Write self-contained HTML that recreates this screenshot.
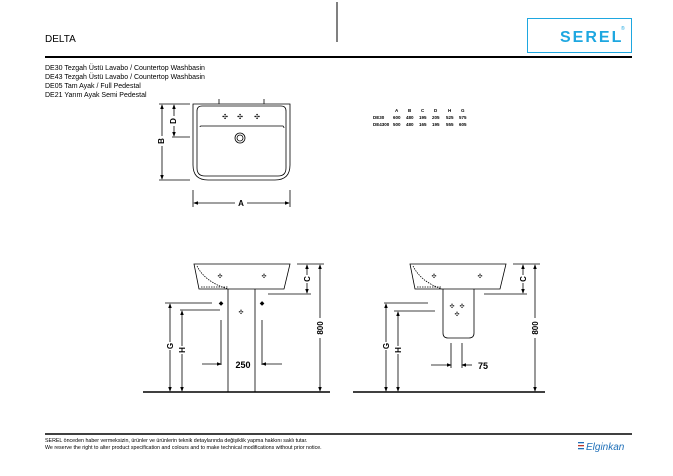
<!DOCTYPE html>
<html><head><meta charset="utf-8"><style>
html,body{margin:0;padding:0;background:#fff;width:673px;height:476px;overflow:hidden}
svg{display:block}
text{font-family:"Liberation Sans",sans-serif}
</style></head><body>
<svg width="673" height="476" viewBox="0 0 673 476" xmlns="http://www.w3.org/2000/svg">
<defs>
<marker id="ar" markerWidth="6" markerHeight="6" refX="5" refY="3" orient="auto-start-reverse"><path d="M0,0.8 L6,3 L0,5.2z" fill="#000"/></marker>
</defs>
<line x1="337" y1="2" x2="337" y2="42" stroke="#000" stroke-width="1"/>
<text x="45" y="42" font-size="10">DELTA</text>
<line x1="45" y1="57" x2="632" y2="57" stroke="#000" stroke-width="2"/>
<rect x="527.5" y="18.5" width="104" height="34" fill="none" stroke="#1ea7e0" stroke-width="1"/>
<text x="560" y="42" font-size="16" font-weight="bold" fill="#1ea7e0" letter-spacing="2">SEREL</text>
<text x="621" y="30" font-size="5" fill="#1ea7e0">®</text>
<g font-size="7">
<text x="45" y="70">DE30 Tezgah Üstü Lavabo / Countertop Washbasin</text>
<text x="45" y="79">DE43 Tezgah Üstü Lavabo / Countertop Washbasin</text>
<text x="45" y="88">DE05 Tam Ayak / Full Pedestal</text>
<text x="45" y="97">DE21 Yarım Ayak Semi Pedestal</text>
</g>
<!-- top view -->
<g fill="none" stroke="#000" stroke-width="0.8">
<path d="M193,104 H290 V165 Q290,180 275,180 H208 Q193,180 193,165 Z"/>
<path d="M197,111 Q197,106 202,106 H281 Q286,106 286,111 V168 Q286,176 278,176 H205 Q197,176 197,168 Z"/>
<path d="M200,127 Q200,126 201,126 H283 Q284,127 284,128"/>
<circle cx="240" cy="138" r="5"/><circle cx="240" cy="138" r="3"/>
<line x1="219" y1="99" x2="219" y2="104"/><line x1="264" y1="99" x2="264" y2="104"/>
<line x1="159" y1="104" x2="190" y2="104"/><line x1="159" y1="180" x2="190" y2="180"/>
<line x1="172" y1="137" x2="190" y2="137"/>
<line x1="193" y1="190" x2="193" y2="207"/><line x1="290" y1="190" x2="290" y2="207"/>
</g>
<g font-size="7" text-anchor="middle"><text x="225" y="119">✣</text><text x="240" y="119">✣</text><text x="257" y="119">✣</text></g>
<g stroke="#000" stroke-width="0.8">
<line x1="162" y1="105" x2="162" y2="179" marker-start="url(#ar)" marker-end="url(#ar)"/>
<line x1="174" y1="105" x2="174" y2="136" marker-start="url(#ar)" marker-end="url(#ar)"/>
<line x1="194" y1="203" x2="289" y2="203" marker-start="url(#ar)" marker-end="url(#ar)"/>
</g>
<rect x="156" y="136" width="12" height="10" fill="#fff"/><text x="162" y="143" font-size="8" font-weight="bold" text-anchor="middle" transform="rotate(-90 162 141)">B</text>
<rect x="169" y="116" width="10" height="10" fill="#fff"/><text x="174" y="123" font-size="8" font-weight="bold" text-anchor="middle" transform="rotate(-90 174 121)">D</text>
<rect x="235" y="198" width="12" height="10" fill="#fff"/><text x="241" y="206" font-size="8" font-weight="bold" text-anchor="middle">A</text>
<!-- table -->
<g font-size="4.5" font-weight="bold">
<text x="395" y="112">A</text><text x="408" y="112">B</text><text x="421" y="112">C</text><text x="434" y="112">D</text><text x="448" y="112">H</text><text x="461" y="112">G</text>
<text x="373" y="119">DE30</text><text x="393" y="119">600</text><text x="406" y="119">480</text><text x="419" y="119">195</text><text x="432" y="119">205</text><text x="446" y="119">525</text><text x="459" y="119">575</text>
<text x="373" y="126">DE4300</text><text x="393" y="126">500</text><text x="406" y="126">480</text><text x="419" y="126">165</text><text x="432" y="126">195</text><text x="446" y="126">555</text><text x="459" y="126">605</text>
</g>
<!-- side views -->
<g id="sv" fill="none" stroke="#000" stroke-width="0.8">
<path d="M194,264 H290 L284,289 H199 Z"/>
<path d="M197,266 Q205,282 228,289" stroke-dasharray="1.5,1"/>
<line x1="201" y1="287" x2="228" y2="287" stroke-dasharray="1.5,1"/>
<line x1="297" y1="264" x2="324" y2="264"/>
<line x1="268" y1="294" x2="311" y2="294"/>
<line x1="143" y1="392" x2="330" y2="392" stroke-width="1.6"/>
</g>
<g fill="none" stroke="#000" stroke-width="0.8">
<line x1="228" y1="289" x2="228" y2="392"/><line x1="255" y1="289" x2="255" y2="392"/>
<line x1="165" y1="303" x2="212" y2="303"/><line x1="180" y1="310" x2="220" y2="310"/>
<line x1="221" y1="320" x2="221" y2="365"/><line x1="262" y1="320" x2="262" y2="365"/>
<line x1="202" y1="364" x2="221" y2="364" marker-end="url(#ar)"/><line x1="282" y1="364" x2="262" y2="364" marker-end="url(#ar)"/>
<line x1="170" y1="304" x2="170" y2="391" marker-start="url(#ar)" marker-end="url(#ar)"/>
<line x1="182" y1="311" x2="182" y2="391" marker-start="url(#ar)" marker-end="url(#ar)"/>
<line x1="307" y1="265" x2="307" y2="293" marker-start="url(#ar)" marker-end="url(#ar)"/>
<line x1="320" y1="265" x2="320" y2="391" marker-start="url(#ar)" marker-end="url(#ar)"/>
</g>
<g font-size="6" text-anchor="middle"><text x="220" y="278">✣</text><text x="264" y="278">✣</text><text x="241" y="314">✣</text><text x="221" y="305">◆</text><text x="262" y="305">◆</text></g>
<!-- right -->
<g fill="none" stroke="#000" stroke-width="0.8">
<path d="M410,264 H506 L500,289 H415 Z"/>
<path d="M413,266 Q421,282 442,289" stroke-dasharray="1.5,1"/>
<line x1="417" y1="287" x2="442" y2="287" stroke-dasharray="1.5,1"/>
<line x1="513" y1="264" x2="540" y2="264"/>
<line x1="484" y1="294" x2="527" y2="294"/>
<line x1="353" y1="392" x2="545" y2="392" stroke-width="1.6"/>
<path d="M443,289 V333 Q443,338 448,338 H469 Q474,338 474,333 V289"/>
<line x1="384" y1="303" x2="428" y2="303"/><line x1="394" y1="311" x2="435" y2="311"/>
<line x1="451" y1="343" x2="451" y2="368"/><line x1="462" y1="343" x2="462" y2="368"/>
<line x1="431" y1="365" x2="451" y2="365" marker-end="url(#ar)"/><line x1="472" y1="365" x2="462" y2="365" marker-end="url(#ar)"/>
<line x1="386" y1="304" x2="386" y2="391" marker-start="url(#ar)" marker-end="url(#ar)"/>
<line x1="398" y1="312" x2="398" y2="391" marker-start="url(#ar)" marker-end="url(#ar)"/>
<line x1="523" y1="265" x2="523" y2="293" marker-start="url(#ar)" marker-end="url(#ar)"/>
<line x1="535" y1="265" x2="535" y2="391" marker-start="url(#ar)" marker-end="url(#ar)"/>
</g>
<g font-size="6" text-anchor="middle"><text x="434" y="278">✣</text><text x="480" y="278">✣</text><text x="452" y="308">✣</text><text x="462" y="308">✣</text><text x="457" y="316">✣</text></g>
<!-- dim labels -->
<g font-size="9" font-weight="bold" text-anchor="middle">
<text x="243" y="368">250</text><text x="483" y="369">75</text>
</g>
<g font-size="8" font-weight="bold" text-anchor="middle">
<rect x="316" y="318" width="9" height="20" fill="#fff"/><text transform="translate(323,328) rotate(-90)">800</text>
<rect x="531" y="318" width="9" height="20" fill="#fff"/><text transform="translate(538,328) rotate(-90)">800</text>
<rect x="303" y="275" width="9" height="8" fill="#fff"/><text transform="translate(310,279) rotate(-90)">C</text>
<rect x="519" y="275" width="9" height="8" fill="#fff"/><text transform="translate(526,279) rotate(-90)">C</text>
<rect x="166" y="342" width="9" height="8" fill="#fff"/><text transform="translate(173,346) rotate(-90)">G</text>
<rect x="178" y="346" width="9" height="8" fill="#fff"/><text transform="translate(185,350) rotate(-90)">H</text>
<rect x="382" y="342" width="9" height="8" fill="#fff"/><text transform="translate(389,346) rotate(-90)">G</text>
<rect x="394" y="346" width="9" height="8" fill="#fff"/><text transform="translate(401,350) rotate(-90)">H</text>
</g>
<!-- footer -->
<line x1="45" y1="434" x2="632" y2="434" stroke="#000" stroke-width="1.5"/>
<text x="45" y="442" font-size="5.3">SEREL önceden haber vermeksizin, ürünler ve ürünlerin teknik detaylarında değişiklik yapma hakkını saklı tutar.</text>
<text x="45" y="449" font-size="5.3">We reserve the right to alter product specification and colours and to make technical modifications without prior notice.</text>
<text x="586" y="450" font-size="10" font-style="italic" fill="#1e6fb8">Elginkan</text>
<rect x="578" y="442" width="6" height="1.3" fill="#1e6fb8"/><rect x="578" y="445" width="6" height="1.3" fill="#c0392b"/><rect x="578" y="448" width="6" height="1.3" fill="#1e6fb8"/>
</svg>
</body></html>
